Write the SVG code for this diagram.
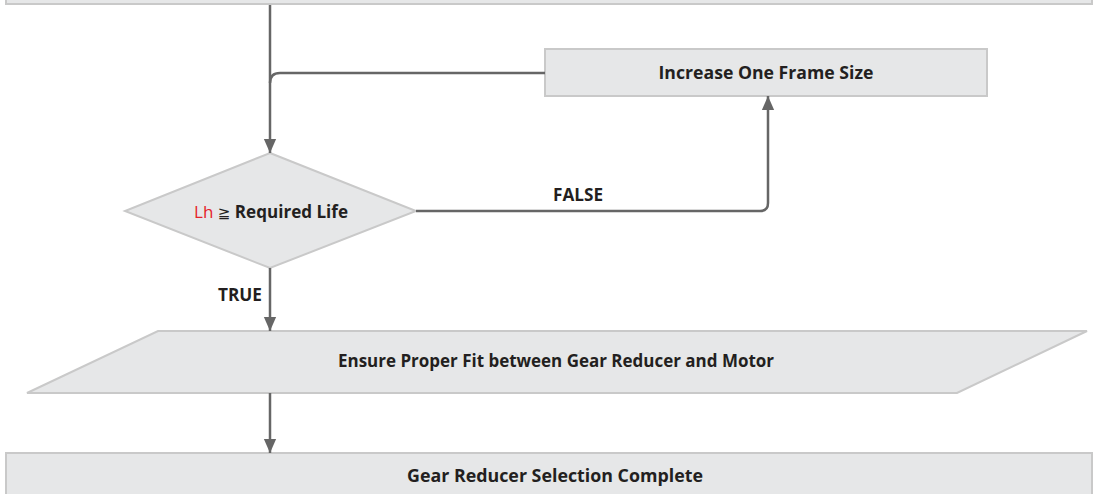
<svg xmlns="http://www.w3.org/2000/svg" width="1094" height="494" viewBox="0 0 1094 494">
<style>
.box{fill:#e6e7e8;stroke:#c9c9c9;stroke-width:2}
.t{font-family:"Open Sans","Liberation Sans",sans-serif;font-weight:bold;font-size:17px;fill:#231f20;text-anchor:middle}
.c{fill:none;stroke:#666;stroke-width:2.5}
</style>
<defs>
<marker id="ah" markerUnits="userSpaceOnUse" markerWidth="14" markerHeight="16" viewBox="0 0 16 14" refX="16" refY="7" orient="auto">
<path d="M0,0 L16,7 L0,14 Z" fill="#666"/>
</marker>
</defs>
<rect x="0" y="0" width="1094" height="494" fill="#fff"/>
<g id="start"><rect class="box" x="6" y="-60" width="1086" height="64"/></g>
<g id="increase"><rect class="box" x="545" y="49" width="442" height="47"/>
<text class="t" x="766" y="79" textLength="215" lengthAdjust="spacingAndGlyphs">Increase One Frame Size</text></g>
<g id="decision"><polygon class="box" points="270,153 416,211 270,268 125,211"/>
<text class="t" x="271" y="218" textLength="154" lengthAdjust="spacingAndGlyphs"><tspan fill="#e5232a" font-weight="normal">Lh</tspan> <tspan font-weight="normal" font-family="DejaVu Sans, sans-serif" font-size="15">≧</tspan> Required Life</text></g>
<g id="ensure"><polygon class="box" points="158,331 1087,331 957,393 27,393"/>
<text class="t" x="556" y="367" textLength="436" lengthAdjust="spacingAndGlyphs">Ensure Proper Fit between Gear Reducer and Motor</text></g>
<g id="complete"><rect class="box" x="6" y="453" width="1086" height="60"/>
<text class="t" x="555" y="482" textLength="296" lengthAdjust="spacingAndGlyphs">Gear Reducer Selection Complete</text></g>
<g id="connectors">
<path class="c" d="M270,5 V153" marker-end="url(#ah)"/>
<path class="c" d="M545,73 H280 Q270,73 270,83"/>
<path class="c" d="M416,211 H760 Q768,211 768,203 V96" marker-end="url(#ah)"/>
<path class="c" d="M270,268 V331" marker-end="url(#ah)"/>
<path class="c" d="M270,393 V453" marker-end="url(#ah)"/>
<text class="t" x="578" y="201" textLength="50" lengthAdjust="spacingAndGlyphs">FALSE</text>
<text class="t" x="240" y="301" textLength="44" lengthAdjust="spacingAndGlyphs">TRUE</text>
</g>
</svg>
